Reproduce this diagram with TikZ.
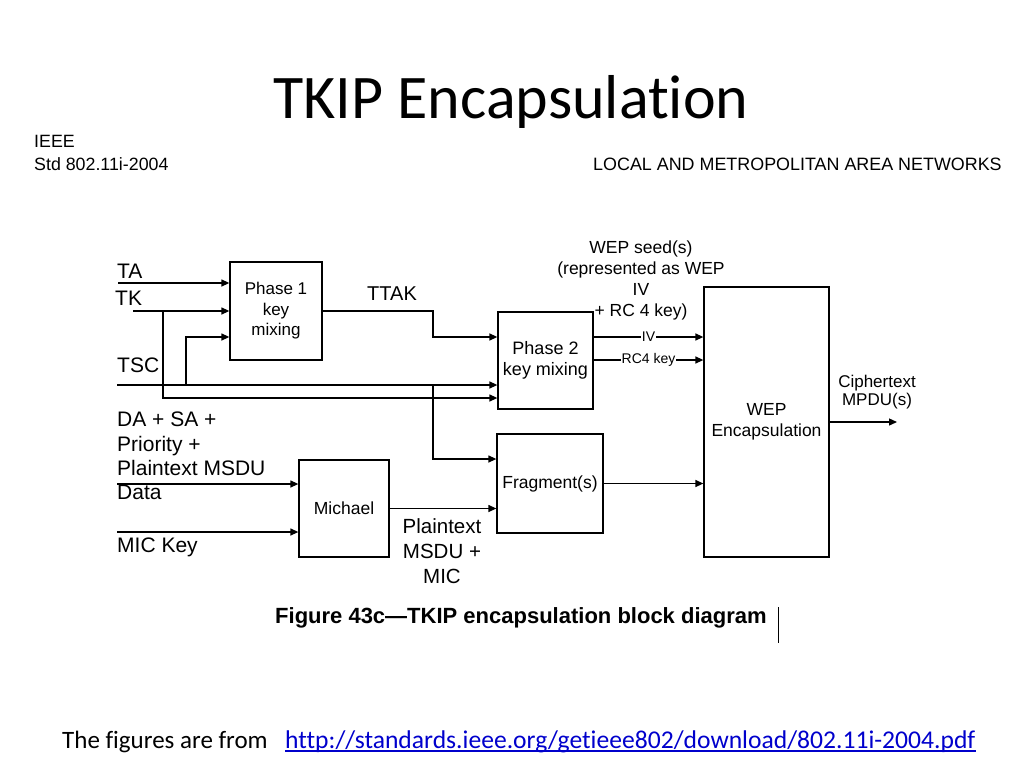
\documentclass[tikz,border=0pt]{standalone}
\usepackage{fontspec}
\setmainfont{Liberation Sans}
\newfontfamily\carlito[Ligatures=NoCommon]{Carlito}
\usetikzlibrary{arrows.meta}
\begin{document}
\begin{tikzpicture}[x=1pt,y=-1pt,
  box/.style={draw, line width=1.3pt, inner sep=0pt, align=center, font=\fontsize{17.5}{21}\selectfont},
  wire/.style={line width=1.3pt},
  arr/.style={line width=1.3pt, -{Triangle[length=8pt,width=7pt]}},
  inlbl/.style={inner sep=0pt, font=\fontsize{21}{24.3}\selectfont},
  onlbl/.style={fill=white, inner sep=1pt, font=\fontsize{14}{16}\selectfont},
  hdr/.style={inner sep=0pt, anchor=base west, font=\fontsize{17.8}{21}\selectfont}]
\useasboundingbox (0,0) rectangle (1024,768);
% title and header
\node[inner sep=0pt, anchor=base, font=\carlito\fontsize{62}{70}\selectfont] (title) at (511,118) {TKIP Encapsulation};
\node[hdr] (ieee) at (34,147) {IEEE};
\node[hdr] (std) at (34,170) {Std 802.11i-2004};
\node[hdr, font=\fontsize{17.9}{21}\selectfont] (lman) at (593,170) {LOCAL AND METROPOLITAN AREA NETWORKS};
% boxes
\node[box, minimum width=92pt, minimum height=98pt, font=\fontsize{17}{20.5}\selectfont] (p1) at (276,311) {Phase 1\\key\\mixing};
\node[box, minimum width=95pt, minimum height=97pt, font=\fontsize{18}{21}\selectfont] (p2) at (545.5,360.5) {Phase 2\\key mixing};
\node[box, minimum width=90pt, minimum height=97pt] (mi) at (344,508.5) {Michael};
\node[box, minimum width=106pt, minimum height=99pt] (fr) at (550,483.5) {Fragment(s)};
\node[box, minimum width=125pt, minimum height=270pt] (wep) at (766.5,422) {WEP\\Encapsulation};
% input labels
\node[inlbl, anchor=base west] (lta) at (117,278) {TA};
\node[inlbl, anchor=base west] (ltk) at (115,305) {TK};
\node[inlbl, anchor=base west] (ltsc) at (117,372) {TSC};
\node[inlbl, anchor=west, align=left] (lda) at (117,456) {DA + SA +\\Priority +\\Plaintext MSDU\\Data};
\node[inlbl, anchor=base west] (lmk) at (117,552) {MIC Key};
\node[inlbl, anchor=base west, font=\fontsize{20}{24}\selectfont] (lttak) at (367,300) {TTAK};
\node[inner sep=0pt, align=center, font=\fontsize{17.5}{21.3}\selectfont] (seed) at (641,280.5) {WEP seed(s)\\(represented as WEP\\IV\\+ RC 4 key)};
\node[inner sep=0pt, align=center, font=\fontsize{17}{18}\selectfont] (ct) at (877,391.6) {Ciphertext\\MPDU(s)};
\node[inner sep=0pt, align=center, font=\fontsize{20.5}{25}\selectfont] (pm) at (442,550.7) {Plaintext\\MSDU +\\MIC};
% coordinates
\coordinate (ta) at (118,283);
\coordinate (tk) at (133,311);
\coordinate (jtk) at (163,311);
\coordinate (tkrow) at (163,398);
\coordinate (tsc) at (117,385);
\coordinate (jtsc) at (186,385);
\coordinate (p1c) at (186,337);
\coordinate (jfr) at (433,385);
\coordinate (frc) at (433,459);
\coordinate (tt1) at (433,311);
\coordinate (tt2) at (433,337);
\coordinate (iv) at (593,337);
\coordinate (rc) at (593,360);
\coordinate (da) at (117,484);
\coordinate (mk) at (117,532);
\coordinate (out) at (897,423);
% connectors
\draw[arr] (ta) -- (ta -| p1.west);
\draw[arr] (tk) -- (tk -| p1.west);
\draw[arr] (jtk) -- (tkrow) -- (tkrow -| p2.west);
\draw[arr] (tsc) -- (tsc -| p2.west);
\draw[arr] (jtsc) -- (p1c) -- (p1c -| p1.west);
\draw[arr] (jfr) -- (frc) -- (frc -| fr.west);
\draw[arr] (p1.east |- tt1) -- (tt1) -- (tt2) -- (tt2 -| p2.west);
\draw[arr] (p2.east |- iv) -- node[onlbl] (liv) {IV} (iv -| wep.west);
\draw[arr] (p2.east |- rc) -- node[onlbl] (lrc) {RC4 key} (rc -| wep.west);
\draw[arr] (fr.east) -- (fr.east -| wep.west);
\draw[arr] (mi.east) -- (mi.east -| fr.west);
\draw[arr] (da) -- (da -| mi.west);
\draw[arr] (mk) -- (mk -| mi.west);
\draw[arr] (wep.east) -- (wep.east -| out);
% caption
\node[inner sep=0pt, anchor=base west, font=\bfseries\fontsize{22}{24}\selectfont] (cap) at (275,623) {Figure 43c---TKIP encapsulation block diagram};
\draw[line width=1pt] (778,607) -- (778,643);
% footer
\node[inner sep=0pt, anchor=base west, font=\carlito\fontsize{25}{30}\selectfont] (foot) at (62,748) {The figures are from};
\node[inner sep=0pt, anchor=base west, text={rgb,255:red,0;green,0;blue,204}, font=\carlito\fontsize{25.6}{30}\selectfont] (url) at (285,748) {http://standards.ieee.org/getieee802/download/802.11i-2004.pdf};
\draw[line width=1.2pt, draw={rgb,255:red,0;green,0;blue,204}] ([yshift=-3pt]url.base west) -- ([yshift=-3pt]url.base east);
\end{tikzpicture}
\end{document}
